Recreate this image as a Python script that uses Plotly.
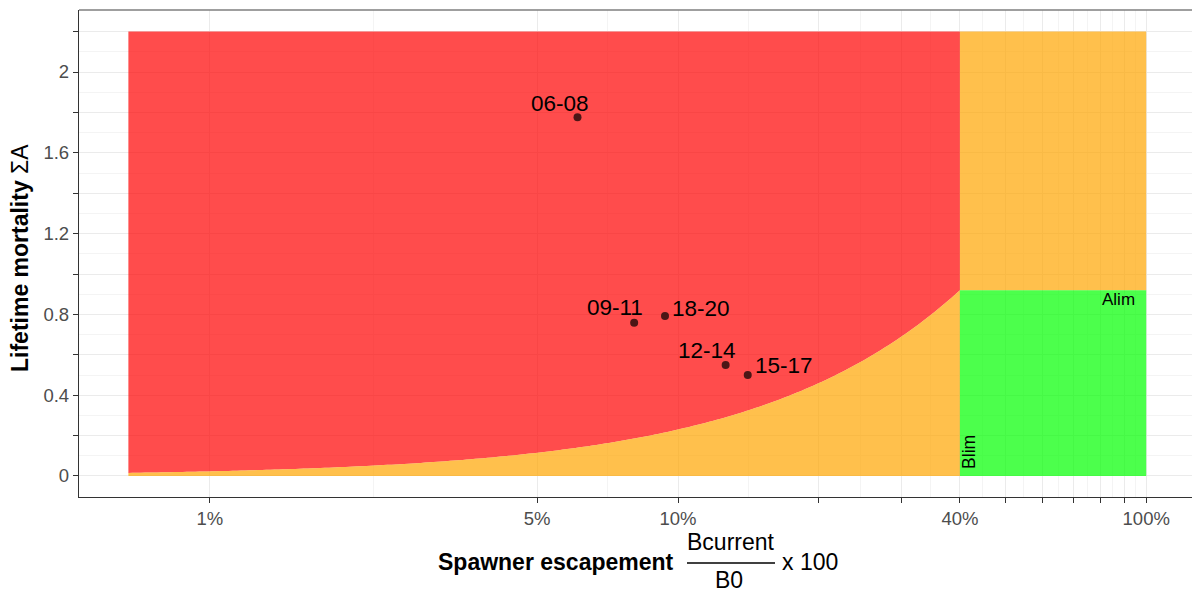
import numpy as np
import plotly.graph_objects as go

# Reference points (Blim on spawner escapement, Alim on lifetime mortality)
blim = 40.0      # % of B0
alim = 0.92      # lifetime mortality limit
x_min = 0.67     # lowest escapement shown (%)
x_max = 100.0
y_top = 2.2

# Observed triennial averages
periods = ["06-08", "09-11", "18-20", "12-14", "15-17"]
escapement = [6.10, 8.06, 9.38, 12.64, 14.09]   # % of B0
mortality = [1.776, 0.759, 0.792, 0.550, 0.500]

# Label offsets (pixels) for each period
label_dx = [-18, -19, 36, -19, 36]
label_dy = [14, 15, 8, 14, 10]

x_breaks = [1, 5, 10, 20, 30, 40, 50, 60, 70, 80, 90, 100]
x_labels = ["1%", "5%", "10%", "", "", "40%", "", "", "", "", "", "100%"]
y_breaks = [0, 0.2, 0.4, 0.6, 0.8, 1.0, 1.2, 1.4, 1.6, 1.8, 2.0, 2.2]
y_labels = ["0", "", "0.4", "", "0.8", "", "1.2", "", "1.6", "", "2", ""]

FONT = "Liberation Sans, Arial, sans-serif"
RED = "rgba(255,0,0,0.7)"
ORANGE = "rgba(255,165,0,0.7)"
GREEN = "rgba(0,255,0,0.7)"

# Boundary between red and orange zones: mortality scales with escapement up to (Blim, Alim)
bx = np.geomspace(x_min, blim, 200)
by = alim * bx / blim

fig = go.Figure()

# Red zone: above the boundary, left of Blim
fig.add_trace(go.Scatter(
    x=np.concatenate([[x_min, blim], bx[::-1]]),
    y=np.concatenate([[y_top, y_top], by[::-1]]),
    fill="toself", fillcolor=RED, mode="none", hoverinfo="skip", showlegend=False))
# Orange zone below the boundary
fig.add_trace(go.Scatter(
    x=np.concatenate([bx, [blim, x_min]]),
    y=np.concatenate([by, [0, 0]]),
    fill="toself", fillcolor=ORANGE, mode="none", hoverinfo="skip", showlegend=False))
# Orange zone right of Blim, above Alim
fig.add_trace(go.Scatter(
    x=[blim, x_max, x_max, blim], y=[alim, alim, y_top, y_top],
    fill="toself", fillcolor=ORANGE, mode="none", hoverinfo="skip", showlegend=False))
# Green zone right of Blim, below Alim
fig.add_trace(go.Scatter(
    x=[blim, x_max, x_max, blim], y=[0, 0, alim, alim],
    fill="toself", fillcolor=GREEN, mode="none", hoverinfo="skip", showlegend=False))

# Observations
fig.add_trace(go.Scatter(
    x=escapement, y=mortality, mode="markers",
    marker=dict(color="rgba(0,0,0,0.7)", size=8, line=dict(width=0)),
    showlegend=False))

annotations = []
for p, xv, yv, dx, dy in zip(periods, escapement, mortality, label_dx, label_dy):
    annotations.append(dict(x=np.log10(xv), y=yv, xref="x", yref="y", text=p,
                            showarrow=False, xshift=dx, yshift=dy,
                            font=dict(family=FONT, size=22.5, color="black")))

annotations.append(dict(x=np.log10(x_max), y=alim, xref="x", yref="y", text="Alim",
                        showarrow=False, xanchor="right", yanchor="top", xshift=-9, yshift=2,
                        font=dict(family=FONT, size=17, color="black")))
annotations.append(dict(x=np.log10(blim), y=0, xref="x", yref="y", text="Blim",
                        showarrow=False, xanchor="left", yanchor="bottom", textangle=-90,
                        xshift=-3, yshift=5,
                        font=dict(family=FONT, size=17.5, color="black")))

# Axis titles
L, T, W, H = 79, 10, 1113, 487


def px(v):
    return (v - L) / W


def py(v):
    return (T + H - v) / H


def title_part(x, y, text, angle=0):
    return dict(x=px(x), y=py(y), xref="paper", yref="paper", text=text,
                textangle=angle, showarrow=False, xanchor="center", yanchor="middle",
                font=dict(family=FONT, size=23, color="black"))


annotations.append(title_part(20, 258, "<b>Lifetime mortality</b> ΣA", angle=-90))
annotations.append(title_part(556, 562, "<b>Spawner escapement</b>"))
annotations.append(title_part(731, 542, "Bcurrent"))
annotations.append(title_part(729, 580, "B0"))
annotations.append(title_part(810, 562, "x 100"))

shapes = [
    dict(type="line", xref="paper", yref="paper", x0=px(687), x1=px(775),
         y0=py(563), y1=py(563), line=dict(color="black", width=1.5)),
    dict(type="line", xref="paper", yref="paper", x0=0, x1=1, y0=1, y1=1,
         line=dict(color="#7f7f7f", width=1.3)),
]

mid = [float(np.sqrt(a * b)) for a, b in zip(x_breaks[:-1], x_breaks[1:])]
ymid = [round(v + 0.1, 2) for v in y_breaks[:-1]]

fig.update_layout(
    width=1192, height=590,
    margin=dict(l=L, r=0, t=T, b=590 - T - H),
    paper_bgcolor="white", plot_bgcolor="white",
    font=dict(family=FONT),
    annotations=annotations, shapes=shapes,
    xaxis=dict(
        type="log", range=[-0.2794, 2.0978],
        tickmode="array", tickvals=x_breaks, ticktext=x_labels,
        ticks="outside", ticklen=5, tickwidth=1.2, tickcolor="#333333",
        tickfont=dict(family=FONT, size=18.5, color="#4d4d4d"),
        showgrid=True, gridcolor="#EBEBEB", gridwidth=1.2,
        minor=dict(tickmode="array", tickvals=mid, showgrid=True,
                   gridcolor="#F4F4F4", gridwidth=1, ticks=""),
        showline=True, linecolor="#333333", linewidth=1.3, zeroline=False,
    ),
    yaxis=dict(
        range=[-0.104, 2.307],
        tickmode="array", tickvals=y_breaks, ticktext=y_labels,
        ticks="outside", ticklen=5, tickwidth=1.2, tickcolor="#333333",
        tickfont=dict(family=FONT, size=18.5, color="#4d4d4d"),
        showgrid=True, gridcolor="#EBEBEB", gridwidth=1.2,
        minor=dict(tickmode="array", tickvals=ymid, showgrid=True,
                   gridcolor="#F4F4F4", gridwidth=1, ticks=""),
        showline=True, linecolor="#333333", linewidth=1.3, zeroline=False,
    ),
)

fig.write_html("out.html")
